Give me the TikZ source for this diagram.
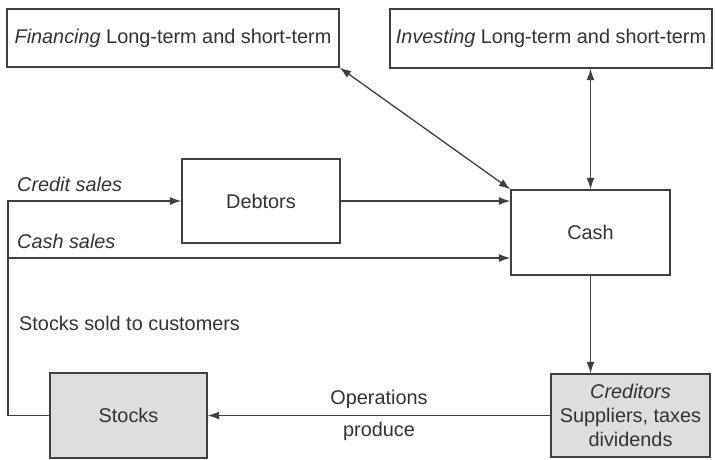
\documentclass[tikz,border=0pt]{standalone}
\usepackage{fontspec}
\setmainfont{Liberation Sans}
\usetikzlibrary{positioning, arrows.meta, calc}

\begin{document}
\begin{tikzpicture}[
    font=\fontsize{11.3}{13.6}\selectfont,
    >={Latex[length=2.3mm, width=1.6mm]},
    caixa/.style={draw=black!75, line width=0.75pt, align=center, text=black!80},
    estoque/.style={caixa, fill=black!13},
    linha/.style={draw=black!75, line width=0.75pt}
  ]
    \useasboundingbox (0,0) rectangle (14.3,9.18);
    % Caixas de cima
    \node[caixa, minimum width=6.64cm, minimum height=1.16cm] (fin) at (3.46,8.42)
      {\textit{Financing} Long-term and short-term};
    \node[caixa, minimum width=6.44cm, minimum height=1.18cm] (inv) at (11.02,8.41)
      {\textit{Investing} Long-term and short-term};
    % Devedores e caixa
    \node[caixa, minimum width=3.16cm, minimum height=1.68cm] (debt) at (5.22,5.16) {Debtors};
    \node[caixa, minimum width=3.18cm, minimum height=1.70cm] (cash) at (11.81,4.53) {Cash};
    % Estoques e credores
    \node[estoque, minimum width=3.14cm, minimum height=1.70cm] (stocks) at (2.57,0.87) {Stocks};
    \node[estoque, minimum width=3.18cm, minimum height=1.66cm] (cred) at (12.61,0.87)
      {\textit{Creditors}\\Suppliers, taxes\\dividends};
    % Trilho da esquerda
    \coordinate (trilho) at (0.16,0.87);
    \coordinate (vista) at (0.16,4.02);
    % Fluxos
    \draw[linha, <->] (fin.south east) -- (cash.north west);
    \draw[linha, <->] (cash.north) -- (cash.north |- inv.south);
    \draw[linha, ->] (debt.east) -- (debt.east -| cash.west);
    \draw[linha, ->] (cash.south) -- (cash.south |- cred.north);
    \draw[linha, ->] (cred.west) -- node[above, text=black!80] (ops) {Operations}
      node[below, text=black!80] (prod) {produce} (stocks.east);
    \draw[linha] (stocks.west) -- (trilho);
    \draw[linha, ->] (trilho) |- (debt.west);
    \draw[linha, ->] (vista) -- (vista -| cash.west);
    % Legendas
    \node[anchor=south west, text=black!80] (credito)
      at ($(trilho |- debt.west)+(0.06,0.06)$) {\textit{Credit sales}};
    \node[anchor=south west, text=black!80] (avista)
      at ($(vista)+(0.06,0.06)$) {\textit{Cash sales}};
    \node[anchor=west, text=black!80] (vendido) at (0.26,2.72) {Stocks sold to customers};
\end{tikzpicture}
\end{document}
